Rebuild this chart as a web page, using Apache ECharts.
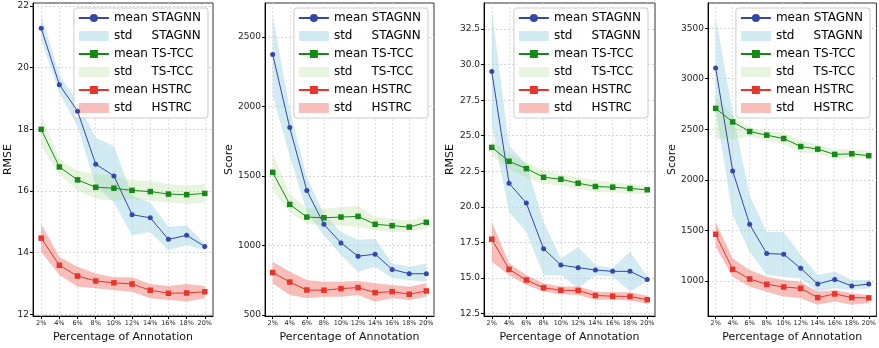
<!DOCTYPE html>
<html><head><meta charset="utf-8">
<script src="https://cdn.jsdelivr.net/npm/echarts@6/dist/echarts.min.js"></script>
<style>html,body{margin:0;padding:0;background:#fff}#c{width:879px;height:348px}</style>
</head><body><div id="c"></div>
<script>
const categories = [2, 4, 6, 8, 10, 12, 14, 16, 18, 20];
const xAxisTitle = 'Percentage of Annotation';
const yTitles = ['RMSE', 'Score', 'RMSE', 'Score'];
const yTicks1 = [12, 14, 16, 18, 20, 22];
const yTicks2 = [500, 1000, 1500, 2000, 2500];
const yTicks3 = [12.5, 15, 17.5, 20, 22.5, 25, 27.5, 30, 32.5];
const yTicks4 = [1000, 1500, 2000, 2500, 3000, 3500];
const methods = ['STAGNN', 'TS-TCC', 'HSTRC'];

// Panel 1 (RMSE)
const stagnnMean1 = [21.28, 19.45, 18.59, 16.87, 16.49, 15.23, 15.13, 14.43, 14.56, 14.20];
const stagnnLo1   = [20.9, 19.18, 18.1, 16.17, 15.63, 14.56, 14.67, 14.08, 14.24, 14.08];
const stagnnHi1   = [21.7, 19.77, 18.86, 17.73, 17.46, 15.85, 15.63, 14.83, 14.88, 14.29];
const tstccMean1  = [18.0, 16.78, 16.36, 16.12, 16.09, 16.02, 15.98, 15.90, 15.88, 15.92];
const tstccLo1    = [17.46, 16.55, 16.01, 15.74, 15.69, 15.74, 15.69, 15.63, 15.58, 15.63];
const tstccHi1    = [18.48, 17.03, 16.66, 16.55, 16.5, 16.34, 16.34, 16.23, 16.18, 16.23];
const hstrcMean1  = [14.47, 13.59, 13.24, 13.08, 13.02, 12.98, 12.78, 12.68, 12.69, 12.73];
const hstrcLo1    = [14.02, 13.27, 12.89, 12.84, 12.78, 12.73, 12.52, 12.47, 12.41, 12.52];
const hstrcHi1    = [14.94, 13.86, 13.54, 13.32, 13.2, 13.2, 12.98, 12.92, 12.98, 12.92];

// Panel 2 (Score)
const stagnnMean2 = [2374, 1848, 1395, 1152, 1018, 922, 937, 827, 796, 796];
const stagnnLo2   = [2075, 1646, 1240, 1073, 930, 810, 846, 763, 751, 739];
const stagnnHi2   = [2660, 1980, 1490, 1228, 1097, 1038, 1049, 870, 846, 870];
const tstccMean2  = [1526, 1295, 1204, 1199, 1204, 1209, 1152, 1142, 1132, 1166];
const tstccLo2    = [1395, 1240, 1156, 1144, 1144, 1132, 1109, 1097, 1097, 1121];
const tstccHi2    = [1669, 1371, 1264, 1264, 1276, 1288, 1204, 1192, 1180, 1216];
const hstrcMean2  = [805, 736, 679, 677, 689, 696, 660, 667, 648, 672];
const hstrcLo2    = [727, 643, 619, 631, 631, 643, 595, 619, 607, 631];
const hstrcHi2    = [882, 810, 751, 739, 739, 744, 727, 715, 703, 727];

// Panel 3 (RMSE)
const stagnnMean3 = [29.52, 21.66, 20.26, 17.05, 15.9, 15.72, 15.55, 15.46, 15.46, 14.88];
const stagnnLo3   = [25.7, 19.63, 18.23, 15.2, 15.2, 14.27, 15.2, 15.09, 14.04, 14.74];
const stagnnHi3   = [33.85, 24.3, 23.0, 18.93, 16.37, 17.18, 15.9, 15.67, 16.84, 15.09];
const tstccMean3  = [24.18, 23.2, 22.69, 22.08, 21.94, 21.66, 21.43, 21.38, 21.29, 21.2];
const tstccLo3    = [23.6, 22.66, 22.08, 21.61, 21.5, 21.26, 21.03, 21.03, 20.91, 20.91];
const tstccHi3    = [24.64, 23.71, 23.13, 22.55, 22.31, 22.08, 21.85, 21.73, 21.61, 21.5];
const hstrcMean3  = [17.72, 15.6, 14.85, 14.3, 14.13, 14.11, 13.76, 13.71, 13.69, 13.46];
const hstrcLo3    = [16.14, 15.2, 14.5, 14.04, 13.85, 13.8, 13.46, 13.46, 13.41, 13.18];
const hstrcHi3    = [18.93, 16.02, 15.2, 14.62, 14.39, 14.39, 14.04, 13.99, 13.99, 13.74];

// Panel 4 (Score)
const stagnnMean4 = [3107, 2088, 1560, 1272, 1265, 1125, 970, 1016, 951, 970];
const stagnnLo4   = [2697, 1649, 1288, 1059, 1043, 1026, 895, 928, 912, 928];
const stagnnHi4   = [3615, 2664, 1845, 1485, 1485, 1256, 1059, 1092, 1010, 1010];
const tstccMean4  = [2707, 2573, 2478, 2442, 2409, 2330, 2304, 2252, 2258, 2239];
const tstccLo4    = [2402, 2402, 2435, 2386, 2353, 2271, 2255, 2206, 2222, 2206];
const tstccHi4    = [2828, 2632, 2517, 2484, 2468, 2386, 2353, 2304, 2304, 2288];
const hstrcMean4  = [1462, 1115, 1020, 967, 941, 928, 836, 872, 836, 833];
const hstrcLo4    = [1338, 1043, 944, 895, 846, 830, 764, 797, 764, 780];
const hstrcHi4    = [1583, 1223, 1108, 1043, 1010, 993, 895, 912, 879, 862];

const panels = [
  {mean: [stagnnMean1, tstccMean1, hstrcMean1], lo: [stagnnLo1, tstccLo1, hstrcLo1], hi: [stagnnHi1, tstccHi1, hstrcHi1], ticks: yTicks1, dec: 0},
  {mean: [stagnnMean2, tstccMean2, hstrcMean2], lo: [stagnnLo2, tstccLo2, hstrcLo2], hi: [stagnnHi2, tstccHi2, hstrcHi2], ticks: yTicks2, dec: 0},
  {mean: [stagnnMean3, tstccMean3, hstrcMean3], lo: [stagnnLo3, tstccLo3, hstrcLo3], hi: [stagnnHi3, tstccHi3, hstrcHi3], ticks: yTicks3, dec: 1},
  {mean: [stagnnMean4, tstccMean4, hstrcMean4], lo: [stagnnLo4, tstccLo4, hstrcLo4], hi: [stagnnHi4, tstccHi4, hstrcHi4], ticks: yTicks4, dec: 0}
];

// layout (pixels)
const layout = [
  {left: 33, width: 180, ymin: 11.94, ymax: 22.1, nameGap: 17, legendRight: 671},
  {left: 265, width: 169, ymin: 491, ymax: 2745, nameGap: 29, legendRight: 451},
  {left: 484, width: 171, ymin: 12.31, ymax: 34.34, nameGap: 25, legendRight: 231},
  {left: 708, width: 169, ymin: 653, ymax: 3749, nameGap: 28, legendRight: 9}
];
const lineColors = ['#3447ab', '#168a16', '#e8352b'];
const bandColors = ['rgba(173,216,230,0.55)', 'rgba(170,220,140,0.28)', 'rgba(240,110,100,0.45)'];
const symbols = ['circle', 'rect', 'rect'];
const symbolSizes = [5, 5.5, 5.5];
const FONT = 'DejaVu Sans';

function bandRenderer(color) {
  return function (params, api) {
    if (params.dataIndex !== 0) return null;
    const n = params.dataInsideLength;
    const data = params.context.rows;
    const pts = [];
    for (let i = 0; i < data.length; i++) pts.push(api.coord([data[i][0], data[i][2]]));
    for (let i = data.length - 1; i >= 0; i--) pts.push(api.coord([data[i][0], data[i][1]]));
    return {type: 'polygon', shape: {points: pts}, style: {fill: color}, silent: true};
  };
}

const grid = [], xAxis = [], yAxis = [], series = [], legend = [];
layout.forEach((L, p) => {
  const P = panels[p];
  grid.push({left: L.left, width: L.width, top: 3, height: 315, show: true, borderColor: '#333', borderWidth: 1, backgroundColor: 'transparent'});
  xAxis.push({
    type: 'value', gridIndex: p, min: 1.1, max: 20.9,
    name: xAxisTitle, nameLocation: 'middle', nameGap: 13,
    nameTextStyle: {fontFamily: FONT, fontSize: 11, color: '#111'},
    axisLine: {lineStyle: {color: '#000', width: 1}},
    axisTick: {customValues: categories, length: 3, lineStyle: {color: '#000'}},
    axisLabel: {customValues: categories, formatter: v => v + '%', fontFamily: FONT, fontSize: 6.5, color: '#222', margin: 4},
    splitLine: {show: true, lineStyle: {color: '#d8d8d8', type: [2, 2], width: 0.8}}
  });
  yAxis.push({
    type: 'value', gridIndex: p, min: L.ymin, max: L.ymax,
    name: yTitles[p], nameLocation: 'middle', nameGap: L.nameGap, nameRotate: 90,
    nameTextStyle: {fontFamily: FONT, fontSize: 11, color: '#111'},
    axisLine: {lineStyle: {color: '#000', width: 1}},
    axisTick: {customValues: P.ticks, length: 3, lineStyle: {color: '#000'}},
    axisLabel: {customValues: P.ticks, formatter: v => v.toFixed(P.dec), fontFamily: FONT, fontSize: 9, color: '#222', margin: 4},
    splitLine: {show: true, lineStyle: {color: '#cccccc', type: [2, 2], width: 0.8}}
  });
  const legData = [];
  methods.forEach((m, k) => {
    const rows = categories.map((x, i) => [x, P.lo[k][i], P.hi[k][i]]);
    series.push({
      type: 'custom', name: 'std     ' + m, xAxisIndex: p, yAxisIndex: p,
      data: rows, encode: {x: 0, y: [1, 2]},
      renderItem: (params, api) => {
        if (params.dataIndex !== 0) return null;
        const pts = [];
        for (let i = 0; i < rows.length; i++) pts.push(api.coord([rows[i][0], rows[i][2]]));
        for (let i = rows.length - 1; i >= 0; i--) pts.push(api.coord([rows[i][0], rows[i][1]]));
        return {type: 'polygon', shape: {points: pts}, style: {fill: bandColors[k]}};
      },
      itemStyle: {color: bandColors[k]}, silent: true, z: 1 + k * 0.1
    });
    series.push({
      type: 'line', name: 'mean ' + m, xAxisIndex: p, yAxisIndex: p,
      data: categories.map((x, i) => [x, P.mean[k][i]]),
      symbol: symbols[k], symbolSize: symbolSizes[k], showSymbol: true,
      lineStyle: {color: lineColors[k], width: 1}, itemStyle: {color: lineColors[k]}, z: 5
    });
    legData.push({name: 'mean ' + m});
    legData.push({name: 'std     ' + m, icon: 'rect', itemStyle: {color: bandColors[k]}});
  });
  legend.push({
    data: legData, orient: 'vertical', right: L.legendRight, top: 8,
    itemWidth: 30, itemHeight: 10, itemGap: 4, padding: [3, 7, 3, 4],
    backgroundColor: 'rgba(255,255,255,0.85)', borderColor: '#cccccc', borderWidth: 1, borderRadius: 3,
    selectedMode: false,
    textStyle: {fontFamily: FONT, fontSize: 12, color: '#000', lineHeight: 14}
  });
});

const chart = echarts.init(document.getElementById('c'), null, {renderer: 'canvas'});
chart.setOption({animation: false, backgroundColor: '#fff', grid, xAxis, yAxis, series, legend});
</script>
</body></html>
